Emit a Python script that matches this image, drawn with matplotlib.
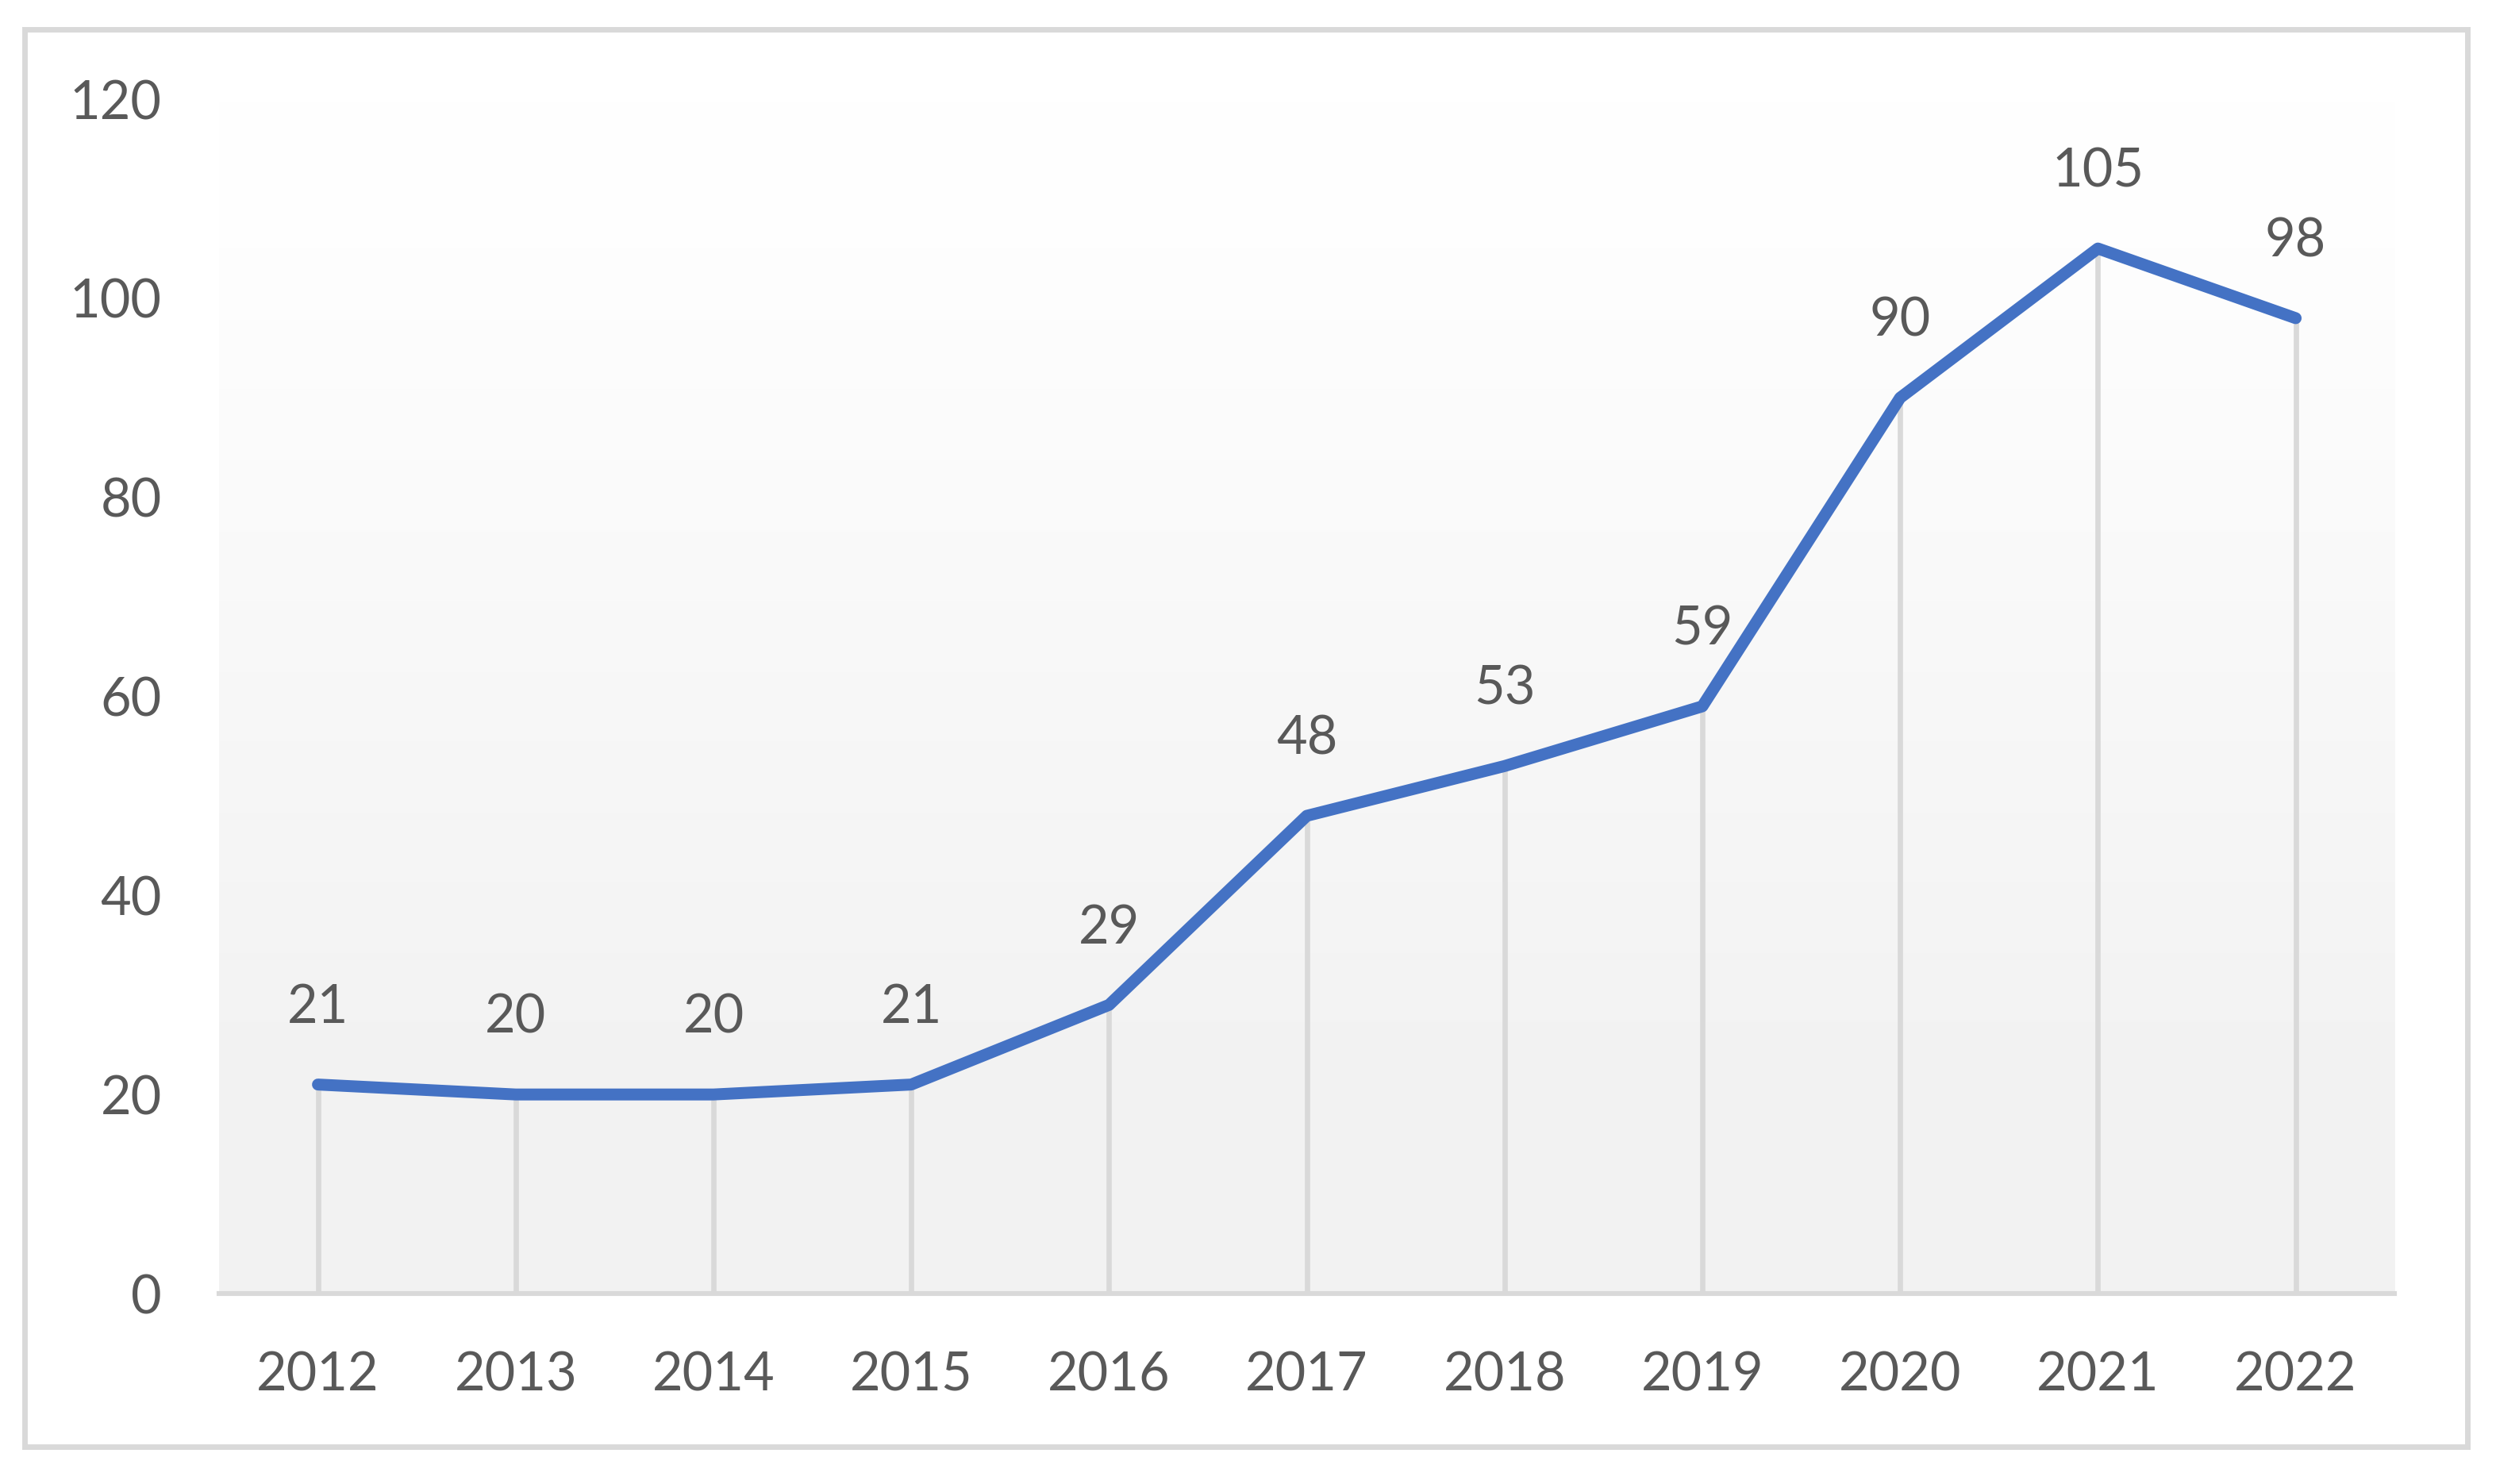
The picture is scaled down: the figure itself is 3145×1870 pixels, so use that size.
import numpy as np
import matplotlib
matplotlib.use('Agg')
import matplotlib.pyplot as plt
from matplotlib.patches import Rectangle

# 数据
years = ['2012', '2013', '2014', '2015', '2016', '2017', '2018', '2019', '2020', '2021', '2022']
values = [21, 20, 20, 21, 29, 48, 53, 59, 90, 105, 98]
y_ticks = [0, 20, 40, 60, 80, 100, 120]

text_color = '#595959'
line_color = '#4472C4'
grey = '#D9D9D9'

plt.rcParams['font.family'] = ['Lato', 'DejaVu Sans']

fig = plt.figure(figsize=(15.725, 9.35), dpi=200)
ax = fig.add_axes([0.08776, 0.12834, 0.8716, 0.80481])

x = np.arange(len(years))
ax.set_xlim(-0.5, len(years) - 0.5)
ax.set_ylim(0, 120)

# 背景渐变 (上白下灰)
yy = np.linspace(0, 120, 400)
shade = np.interp(yy, [0, 20, 105, 120], [242, 242, 254, 255]) / 255.0
grad = np.stack([shade, shade, shade], axis=-1).reshape(-1, 1, 3)
ax.imshow(grad, extent=[-0.5, len(years) - 0.5, 0, 120], origin='lower',
          aspect='auto', zorder=0)

# 垂直线
ax.vlines(x, 0, values, color=grey, linewidth=2.4, zorder=1)

# 折线
ax.plot(x, values, color=line_color, linewidth=5.4, solid_capstyle='round',
        solid_joinstyle='round', zorder=3)

# 数据标签
for xi, v in zip(x, values):
    ax.annotate(str(v), (xi, v), xytext=(0, 28), textcoords='offset points',
                ha='center', va='baseline', fontsize=24, color=text_color, zorder=4)

ax.set_xticks(x)
ax.set_xticklabels(years)
ax.set_yticks(y_ticks)
ax.tick_params(axis='both', length=0, labelsize=24, labelcolor=text_color, pad=26)

for s in ['top', 'right', 'left']:
    ax.spines[s].set_visible(False)
ax.spines['bottom'].set_color(grey)
ax.spines['bottom'].set_linewidth(2.2)
ax.spines['bottom'].set_zorder(2)

# 外框
fig.patches.append(Rectangle((0.0097, 0.02487), 0.98840 - 0.0097, 0.98048 - 0.02487,
                             transform=fig.transFigure, fill=False,
                             edgecolor=grey, linewidth=2.5))

fig.savefig('out.png', dpi=200, facecolor='white')
